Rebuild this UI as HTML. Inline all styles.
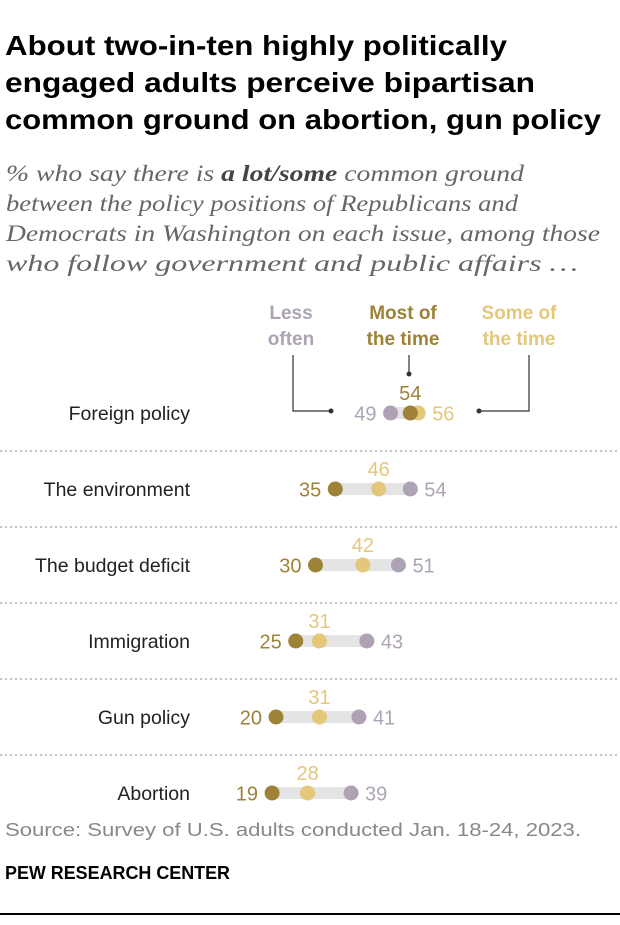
<!DOCTYPE html>
<html><head><meta charset="utf-8"><style>
body{margin:0;background:#fff;}
svg text{font-family:"Liberation Sans",sans-serif;}
</style></head><body>
<svg width="620" height="920" viewBox="0 0 620 920" xmlns="http://www.w3.org/2000/svg" id="chart">
<g font-size="28" font-weight="bold" fill="#000">
<text x="5" y="55" textLength="502" lengthAdjust="spacingAndGlyphs">About two-in-ten highly politically</text>
<text x="5" y="92" textLength="530" lengthAdjust="spacingAndGlyphs">engaged adults perceive bipartisan</text>
<text x="5" y="129" textLength="596" lengthAdjust="spacingAndGlyphs">common ground on abortion, gun policy</text>
</g>
<g font-size="23" font-style="italic" fill="#666">
<text x="6" y="181" textLength="518" lengthAdjust="spacingAndGlyphs" style="font-family:'Liberation Serif',serif">% who say there is <tspan font-weight="bold" fill="#444">a lot/some</tspan> common ground</text>
<text x="6" y="211" textLength="512" lengthAdjust="spacingAndGlyphs" style="font-family:'Liberation Serif',serif">between the policy positions of Republicans and</text>
<text x="6" y="241" textLength="594" lengthAdjust="spacingAndGlyphs" style="font-family:'Liberation Serif',serif">Democrats in Washington on each issue, among those</text>
<text x="6" y="271" textLength="572" lengthAdjust="spacingAndGlyphs" style="font-family:'Liberation Serif',serif">who follow government and public affairs …</text>
</g>
<g font-size="19" font-weight="bold" text-anchor="middle">
<text x="291" y="319" fill="#aea3b5">Less</text><text x="291" y="345" fill="#aea3b5">often</text>
<text x="403" y="319" fill="#9d8238">Most of</text><text x="403" y="345" fill="#9d8238">the time</text>
<text x="519" y="319" fill="#e3c77a">Some of</text><text x="519" y="345" fill="#e3c77a">the time</text>
<g stroke="#333" stroke-width="1.2" fill="none">
<polyline points="293,355 293,411 331,411"/>
<line x1="409" y1="355" x2="409" y2="374"/>
<polyline points="529,355 529,411 479,411"/>
</g>
<circle cx="331" cy="411" r="2.5" fill="#333"/><circle cx="409" cy="374" r="2.5" fill="#333"/><circle cx="479" cy="411" r="2.5" fill="#333"/>
</g>
<g id="rows"></g>
<text x="5" y="836" font-size="18" fill="#888" textLength="576" lengthAdjust="spacingAndGlyphs">Source: Survey of U.S. adults conducted Jan. 18-24, 2023.</text>
<text x="5" y="879" font-size="18" font-weight="bold" fill="#000" textLength="225" lengthAdjust="spacingAndGlyphs">PEW RESEARCH CENTER</text>
<rect x="0" y="913" width="620" height="2" fill="#000"/>
</svg>
<script>
const categories=["Foreign policy","The environment","The budget deficit","Immigration","Gun policy","Abortion"];
const mostValues=[54,35,30,25,20,19];
const someValues=[56,46,42,31,31,28];
const lessValues=[49,54,51,43,41,39];
const C={most:"#9d8238",some:"#e3c77a",less:"#aea3b5"};
const xS=v=>197+v*3.95;
const yS=i=>413+i*76;
const g=document.getElementById('rows');
const NS="http://www.w3.org/2000/svg";
function mk(t,a){const e=document.createElementNS(NS,t);for(const k in a)e.setAttribute(k,a[k]);g.appendChild(e);return e;}
categories.forEach((c,i)=>{
 const y=yS(i);
 if(i>0){const l=mk('line',{x1:0,x2:620,y1:y-38,y2:y-38,stroke:'#888','stroke-dasharray':'2,3','stroke-width':1});
 
 }
 const lab=mk('text',{x:190,y:y+7,'font-size':19.5,fill:'#222','text-anchor':'end'});lab.textContent=c;
 
 
 const pts=[{k:'most',v:mostValues[i]},{k:'some',v:someValues[i]},{k:'less',v:lessValues[i]}];
 const vs=pts.map(p=>p.v);const mn=Math.min(...vs),mx=Math.max(...vs);
 const bar=mk('rect',{x:xS(mn),y:y-6,width:xS(mx)-xS(mn),height:12,fill:'#e4e4e4'});
 
 
 const sorted=[...pts].sort((a,b)=>a.v-b.v);
 const order=['less','some','most'];
 [...pts].sort((a,b)=>order.indexOf(a.k)-order.indexOf(b.k)).forEach(p=>{
  const d=mk('circle',{cx:xS(p.v),cy:y,r:7.5,fill:C[p.k]});
  
  
 });
 sorted.forEach((p,j)=>{
  let a;
  if(j===0)a={x:xS(p.v)-14,y:y+7.5,'text-anchor':'end'};
  else if(j===2)a={x:xS(p.v)+14,y:y+7.5,'text-anchor':'start'};
  else a={x:xS(p.v),y:y-13,'text-anchor':'middle'};
  a['font-size']=20;a.fill=C[p.k];
  const t=mk('text',a);t.textContent=p.v;
  
  
 });
});
</script>
</body></html>
